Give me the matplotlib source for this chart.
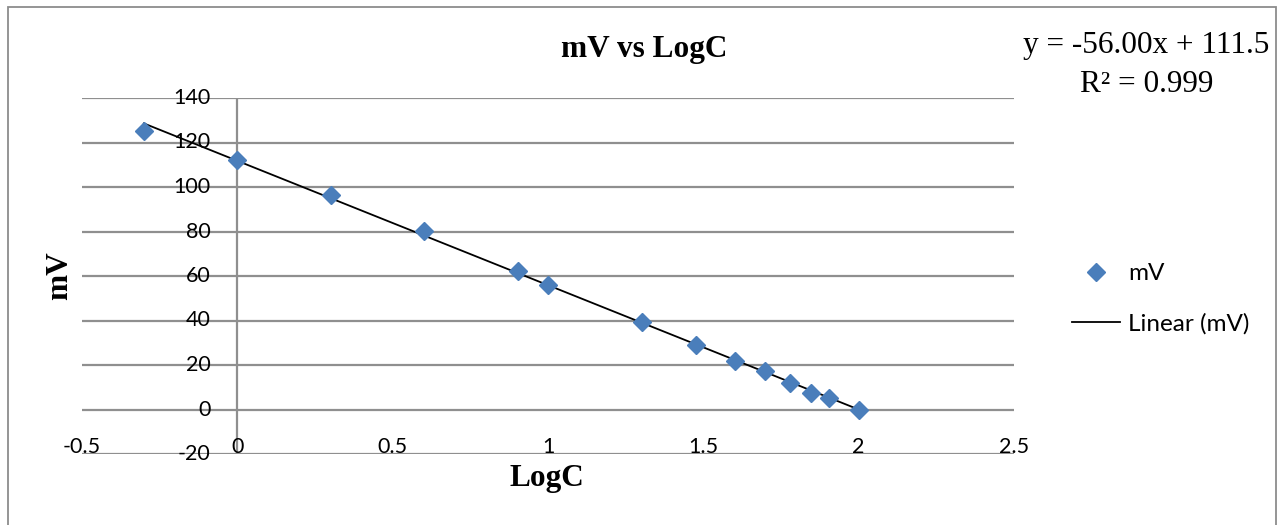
import numpy as np
import matplotlib
matplotlib.use("Agg")
import matplotlib.pyplot as plt
from matplotlib.transforms import offset_copy
from matplotlib.lines import Line2D
from matplotlib.patches import Rectangle

# ---- data ----
log_c = [-0.301, 0.0, 0.301, 0.602, 0.903, 1.0, 1.301, 1.477, 1.602, 1.699, 1.778, 1.845, 1.903, 2.0]
mv = [125.3, 112.3, 96.3, 80.4, 62.2, 56.0, 39.4, 29.2, 21.9, 17.2, 12.0, 7.2, 5.3, -0.3]
x_ticks = [-0.5, 0, 0.5, 1, 1.5, 2, 2.5]
x_tick_labels = ["-0.5", "0", "0.5", "1", "1.5", "2", "2.5"]
y_ticks = [-20, 0, 20, 40, 60, 80, 100, 120, 140]
y_tick_labels = ["-20", "0", "20", "40", "60", "80", "100", "120", "140"]
title = "mV vs LogC"
equation = "y = -56.00x + 111.5"
r2_text = "R² = 0.999"

W, H = 1281, 525
fig = plt.figure(figsize=(W / 100, H / 100), dpi=100)

# outer chart border
fig.add_artist(Rectangle((8 / W, -0.02), (1276 - 8) / W, (525 - 7) / H + 0.02,
                         transform=fig.transFigure, fill=False, edgecolor="#8c8c8c", lw=1.3))

left, right, top, bottom = 82, 1014, 98, 454
ax = fig.add_axes([left / W, (H - bottom) / H, (right - left) / W, (bottom - top) / H])
ax.set_xlim(-0.5, 2.5)
ax.set_ylim(-20, 140)
for s in ax.spines.values():
    s.set_visible(False)
ax.set_xticks([])
ax.set_yticks([])

grid_c = "#8f8f8f"
for v in y_ticks:
    ax.axhline(v, color=grid_c, lw=1.6, zorder=1)
ax.axvline(0, color=grid_c, lw=1.6, zorder=1)

tick_font = dict(family="Lato", fontsize=15.5, color="black")
# y tick labels next to vertical axis at x=0
ytr = offset_copy(ax.transData, fig=fig, x=-27, y=0, units="dots")
for v, lab in zip(y_ticks, y_tick_labels):
    ax.text(0, v, lab, transform=ytr, ha="right", va="center", **tick_font)
# x tick labels just above bottom line
xtr = offset_copy(ax.transData, fig=fig, x=0, y=7, units="dots")
for v, lab in zip(x_ticks, x_tick_labels):
    ax.text(v, -20, lab, transform=xtr, ha="center", va="center", **tick_font)

# trendline
coef = np.polyfit(log_c, mv, 1)
xs = np.array([min(log_c), max(log_c)])
ax.plot(xs, np.polyval(coef, xs), color="black", lw=1.3, zorder=3)
# points
ax.plot(log_c, mv, linestyle="none", marker="D", markersize=9, color="#4A7EBB",
        markeredgecolor="#4A7EBB", zorder=4)

serif = ["Liberation Serif", "DejaVu Serif"]
fig.text(644 / W, 1 - 57 / H, title, family=serif, fontweight="bold", fontsize=22.5,
         ha="center", va="baseline")
fig.text(60 / W, 1 - 276 / H, "mV", family=serif, fontweight="bold", fontsize=22.5,
         ha="center", va="center", rotation=90)
fig.text(547 / W, 1 - 486 / H, "LogC", family=serif, fontweight="bold", fontsize=22.5,
         ha="center", va="baseline")
fig.text(1146 / W, 1 - 53 / H, equation, family=serif, fontsize=22.5, ha="center", va="baseline")
fig.text(1147 / W, 1 - 92 / H, r2_text, family=serif, fontsize=22.5, ha="center", va="baseline")

handles = [Line2D([], [], linestyle="none", marker="D", markersize=9, color="#4A7EBB"),
           Line2D([], [], color="black", lw=1.3)]
fig.legend(handles, ["mV", "Linear (mV)"], loc="center left",
           bbox_to_anchor=(1072 / W, 1 - 299 / H), frameon=False,
           prop=dict(family="Lato", size=17.5), labelspacing=1.2, handlelength=1.97,
           handletextpad=0.33, borderpad=0, borderaxespad=0)

fig.savefig("out.png", dpi=100)
